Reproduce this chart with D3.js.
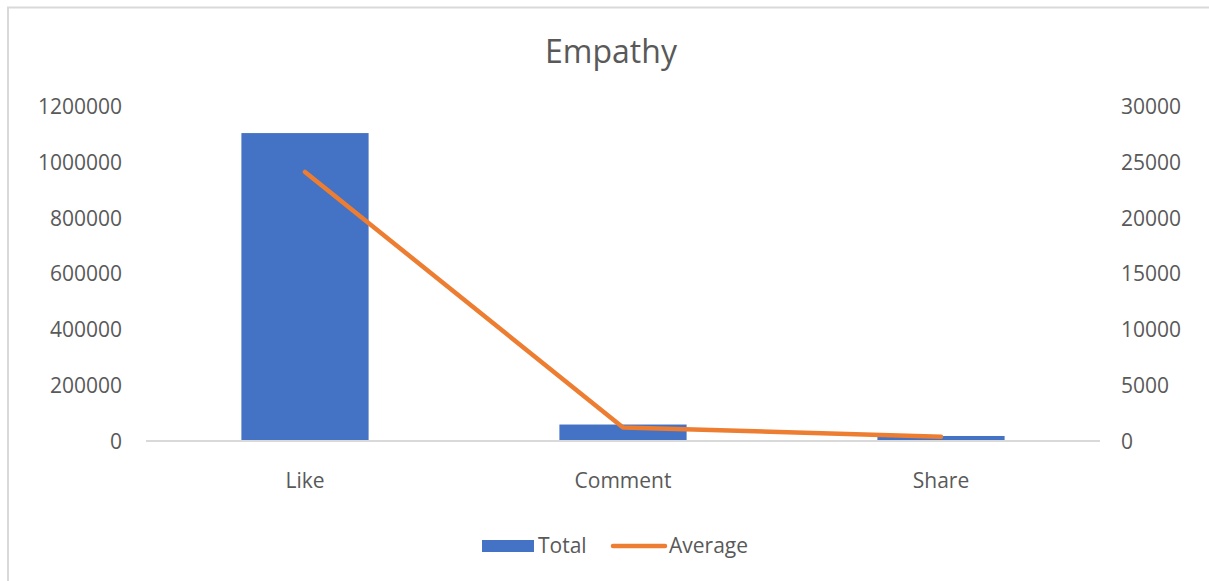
<!DOCTYPE html>
<html><head><meta charset="utf-8">
<script src="https://cdn.jsdelivr.net/npm/d3@7"></script>
<style>body{margin:0;background:#fff;}svg{display:block;}text{font-family:"Open Sans","Noto Sans",sans-serif;fill:#595959;}</style>
</head><body><svg id="c" width="1209" height="581"></svg>
<script>
const categories = ["Like", "Comment", "Share"];
const totalValues = [1103000, 59000, 18000];
const averageValues = [24100, 1200, 390];
const leftTicks = [0, 200000, 400000, 600000, 800000, 1000000, 1200000];
const rightTicks = [0, 5000, 10000, 15000, 20000, 25000, 30000];

(function () {
const svg = d3.select("#c");
const fs = "21px";
// outer border
svg.append("rect").attr("x", 8).attr("y", 7.5).attr("width", 1220).attr("height", 600)
  .attr("fill", "none").attr("stroke", "#d9d9d9").attr("stroke-width", 2);

const pL = 146, pR = 1100, pT = 106, pB = 441;
const x = d3.scaleBand().domain(categories).range([pL, pR]).paddingInner(0.6).paddingOuter(0.3);
const yL = d3.scaleLinear().domain([0, 1200000]).range([pB, pT]);
const yR = d3.scaleLinear().domain([0, 30000]).range([pB, pT]);

svg.append("text").attr("x", 611).attr("y", 63).attr("text-anchor", "middle")
  .style("font-size", "32px").text("Empathy");

// bars
svg.selectAll("rect.bar").data(categories).enter().append("rect").attr("class", "bar")
  .attr("x", d => x(d)).attr("width", x.bandwidth())
  .attr("y", (d, i) => yL(totalValues[i])).attr("height", (d, i) => pB - yL(totalValues[i]))
  .attr("fill", "#4472C4");

// baseline
svg.append("line").attr("x1", pL).attr("x2", pR).attr("y1", pB).attr("y2", pB)
  .attr("stroke", "#d9d9d9").attr("stroke-width", 2);

// left axis
const gl = svg.append("g").attr("transform", `translate(${pL - 24},0)`)
  .call(d3.axisLeft(yL).tickValues(leftTicks).tickFormat(d3.format("d")).tickSize(0).tickPadding(0));
gl.select(".domain").remove();
gl.selectAll("text").style("font-size", fs).attr("dy", "0.35em");

const gr = svg.append("g").attr("transform", `translate(${pR + 21},0)`)
  .call(d3.axisRight(yR).tickValues(rightTicks).tickFormat(d3.format("d")).tickSize(0).tickPadding(0));
gr.select(".domain").remove();
gr.selectAll("text").style("font-size", fs).attr("dy", "0.35em");

// category labels
const gx = svg.append("g").attr("transform", `translate(0,${pB + 40})`)
  .call(d3.axisBottom(x).tickSize(0).tickPadding(0));
gx.select(".domain").remove();
gx.selectAll("text").style("font-size", fs).attr("dy", "0.35em");

// line
const line = d3.line().x((d, i) => x(categories[i]) + x.bandwidth() / 2).y(d => yR(d));
svg.append("path").datum(averageValues).attr("d", line).attr("fill", "none")
  .attr("stroke", "#ED7D31").attr("stroke-width", 4.5).attr("stroke-linecap", "round").attr("stroke-linejoin", "round");

// legend
svg.append("rect").attr("x", 482).attr("y", 540).attr("width", 52).attr("height", 12).attr("fill", "#4472C4");
svg.append("text").attr("x", 538).attr("y", 546).attr("dy", "0.35em").style("font-size", fs).text("Total");
svg.append("line").attr("x1", 613).attr("x2", 665).attr("y1", 546).attr("y2", 546)
  .attr("stroke", "#ED7D31").attr("stroke-width", 4.5).attr("stroke-linecap", "round");
svg.append("text").attr("x", 669).attr("y", 546).attr("dy", "0.35em").style("font-size", fs).text("Average");
})();
</script></body></html>
